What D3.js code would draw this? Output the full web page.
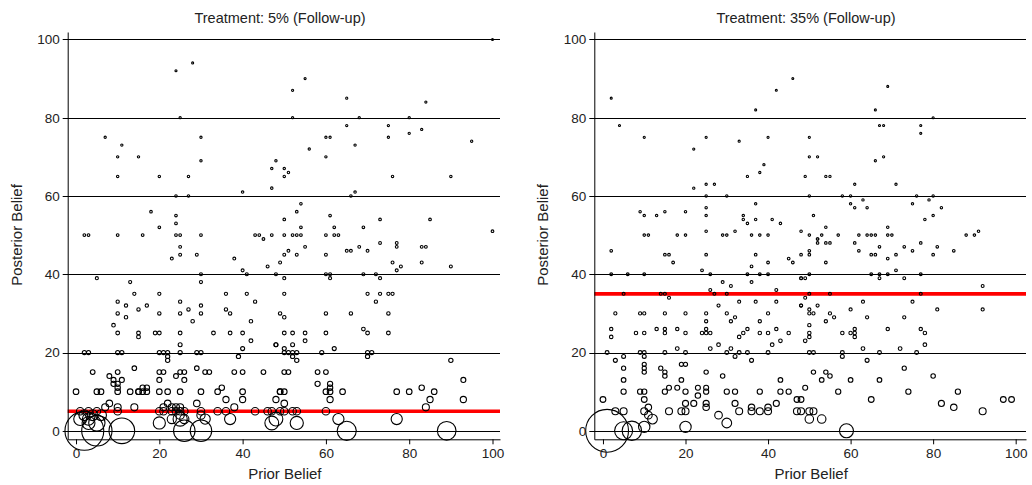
<!DOCTYPE html>
<html>
<head>
<meta charset="utf-8">
<script src="https://cdn.jsdelivr.net/npm/d3@7"></script>
<style>
  html, body { margin: 0; padding: 0; background: #fff; }
  svg { display: block; font-family: "Liberation Sans", Arial, Helvetica, sans-serif; }
</style>
</head>
<body>
<svg id="chart" width="1032" height="485"></svg>
<script>
// ---------------- data ----------------
const xTicks = [0, 20, 40, 60, 80, 100];
const yTicks = [0, 20, 40, 60, 80, 100];
const panelTitles = ["Treatment: 5% (Follow-up)", "Treatment: 35% (Follow-up)"];
const treatmentValues = [5, 35];
const xTitle = "Prior Belief";
const yTitle = "Posterior Belief";

// [prior, posterior]
const followUp5 = [
  [24,92],[28,94],[25,80],[7,75],[11,73],[10,70],[15,70],[30,75],[30,69],[10,65],[20,65],[27,65],[24,60],[27,60],
  [40,61],[47,62],[47,67],[48,69],[18,56],[24,55],[24,53],[20,52],[2,50],[3,50],[10,50],[16,50],[24,50],[25,50],
  [30,50],[43,50],[44,50],[45,49],[47,50],
  [100,100],[55,90],[52,87],[65,85],[84,84],[52,80],[68,80],[80,80],[65,78],[75,78],[83,77],[80,76],[60,75],[61,75],
  [75,75],[95,74],[67,73],[56,72],[60,70],[50,67],[50,65],[51,66],[76,65],[90,65],[67,61],[66,60],[54,58],[53,56],
  [50,54],[61,55],[73,54],[85,54],[54,52],[62,52],[69,52],[50,50],[52,50],[53,50],[54,50],[60,50],[62,50],[63,50],[100,51],
  [25,47],[25,45],[23,44],[29,45],[38,44],[40,41],[41,40],[46,42],[49,43],[30,40],[30,38],[5,39],[13,38],[14,35],
  [20,35],[36,35],[41,35],[43,33],[10,33],[25,33],[12,32],[17,32],[30,32],[15,31],[27,31],[36,31],[37,30],[10,30],
  [20,30],[25,30],[30,30],[12,29],[28,28],[42,28],[49,30],[9,27],[10,25],[15,25],[15,24],[19,25],[20,25],[25,25],
  [33,25],[37,25],[40,25],[25,22],[40,21],[42,23],[48,22],[2,20],[3,20],[10,20],[11,20],[20,20],[21,20],[22,20],
  [25,20],[29,20],[30,20],[22,19],[22,18],[39,19],[4,15],[10,15],[20,15],[21,15],[25,15],[26,15],[31,15],[32,15],
  [38,15],[40,15],[45,15],[14,16],[29,16],[8,14],[24,14],[9,13],[9,12],[11,13],[20,13],[26,13],[10,12],[10,11],
  [16,11],[17,11],[15,10],
  [0,10],[5,10],[6,10],[10,10],[13,10],[15,10],[16,10],[17,10],[20,10],[22,10],[25,10],[30,10],[34,10],[35,11],
  [40,10],[49,10],[8,7],[10,6],[14,6],[22,7],[24,6],[25,6],[29,7],[36,8],[38,6],[40,8],[7,6],[21,6],[23,6],
  [1,5],[3,5],[5,5],[10,5],[20,5],[21,5],[23,5],[24,5],[25,5],[26,5],[30,5],[34,5],[36,5],[43,5],[46,5],[49,5],
  [23,3],[25,4],[30,4],[26,3],
  [51,46],[50,45],[53,45],[55,47],[60,45],[65,46],[66,46],[68,47],[70,46],[73,48],[77,48],[77,47],[83,47],[84,47],
  [76,43],[78,42],[77,41],[83,43],[90,42],[48,40],[60,40],[61,40],[69,40],[72,40],[50,39],[61,39],[73,39],[50,35],
  [70,35],[73,35],[75,35],[76,35],[72,33],[50,29],[60,30],[66,30],[75,30],[50,25],[52,25],[55,25],[60,25],[69,26],
  [70,25],[75,25],[55,23],[48,22],[50,21],[52,22],[62,21],[50,20],[51,20],[52,20],[53,20],[59,20],[70,20],[71,20],
  [52,19],[53,18],[70,19],[90,18],[50,15],[51,15],[58,15],[60,15],[93,13],[58,12],[61,12],[61,11],[49,10],[50,10],
  [60,10],[61,10],[64,10],[77,10],[80,10],[86,10],[83,11],[50,7],[61,8],[85,8],[93,8],[84,6],[48,8],
  [47,5],[50,5],[52,5],[53,5],[60,5]
];
// [prior, posterior, weight] for observations with enlarged weights
const followUp5Weighted = [
  [2,0,4.6],[5,0,2.8],[11,0,2],[26,0,1.4],[30,0,1.4],[65,0,1.1],[89,0,1.05],[5,2,0.8],[1,3,0.5],[3,3,0.45],
  [2,4,0.35],[4,4,0.35],[6,4,0.35],[3,2,0.5],[25,3,0.6],[48,3,0.57],[53,2,0.52],[63,3,0.37],[77,3,0.37],
  [47,2,0.57],[20,2,0.44],[37,3,0.37],[31,3,0.31]
];

const followUp35 = [
  [2,85],[4,78],[10,75],[22,72],[25,75],[33,74],[37,82],[42,87],[46,90],[40,75],[39,68],[38,66],[35,65],[49,65],
  [22,62],[25,63],[27,63],[25,60],[30,60],[37,58],[25,57],[9,56],[10,55],[13,55],[15,56],[20,56],[25,55],[34,55],
  [34,54],[35,53],[37,54],[41,54],[43,53],[10,50],[11,50],[18,50],[20,50],[29,50],[30,50],[36,50],[38,50],[40,50],
  [25,51],[32,51],[48,51],
  [69,88],[66,82],[67,78],[68,78],[77,78],[80,80],[77,76],[50,75],[50,70],[52,70],[66,69],[68,70],[54,65],[55,65],
  [61,63],[71,63],[50,60],[58,60],[60,60],[76,60],[80,60],[60,58],[61,57],[63,59],[64,57],[75,58],[79,59],[82,57],
  [51,55],[78,54],[80,55],[54,52],[69,52],[50,50],[53,50],[57,50],[62,50],[64,50],[65,50],[66,50],[69,50],[70,50],
  [88,50],[90,50],[52,49],[91,51],
  [2,46],[15,45],[16,45],[17,43],[25,45],[24,41],[2,40],[6,40],[10,40],[26,40],[35,40],[38,40],[40,40],[37,45],
  [36,42],[36,38],[40,43],[45,44],[46,43],[48,39],[29,38],[31,37],[26,36],[42,36],
  [5,35],[14,35],[15,35],[27,35],[30,35],[16,34],[28,32],[33,33],[37,33],[42,33],[48,32],
  [3,30],[9,30],[10,30],[15,30],[20,30],[25,30],[30,30],[40,30],[25,28],[31,28],[32,29],[38,28],
  [2,26],[13,26],[15,26],[18,26],[25,26],[35,26],[42,26],[2,24],[8,25],[10,25],[15,25],[20,25],[24,25],[25,25],
  [26,25],[38,25],[40,25],[45,25],[33,24],[34,25],[43,23],[41,22],[18,21],[26,21],[28,22],[31,21],[32,19],[3,18],
  [5,19],[36,18],[1,20],[9,20],[10,20],[15,20],[20,20],[30,20],[33,20],[35,20],[40,20],
  [10,19],[10,17],[10,16],[10,15],[19,17],[20,17],[14,16],[15,15],[15,14],[5,16],[5,13],[25,15],[29,14],[19,13],[43,13],
  [5,10],[9,10],[10,10],[15,10],[20,10],[25,10],[30,10],[32,10],[38,10],[43,10],[45,10],
  [0,8],[10,8],[16,11],[18,11],[23,11],[25,11],[23,9],[25,7],[25,6],[20,7],[22,7],[32,7],[42,7],[47,8],
  [36,6],[40,6],[11,6],[11,4],[28,4],
  [3,5],[5,5],[10,5],[16,5],[19,5],[20,5],[33,5],[36,5],[38,5],[40,5],[47,5],
  [52,48],[52,49],[54,48],[55,48],[61,48],[67,47],[73,47],[75,46],[77,48],[81,47],[85,46],[48,45],[50,45],[50,46],
  [62,46],[65,45],[66,45],[69,44],[71,45],[80,45],[54,43],
  [50,40],[65,40],[67,40],[69,40],[77,40],[71,41],[48,39],[49,39],[67,39],[73,39],
  [50,35],[55,35],[77,35],[92,37],[49,34],[63,33],[75,33],[48,32],[52,32],[50,31],[50,30],[51,30],[60,31],[81,31],
  [92,31],[55,30],[56,29],[64,29],[73,29],[54,28],[50,27],[69,26],[61,26],[77,26],[78,25],[50,25],[50,24],[58,25],
  [60,25],[61,25],[61,24],[49,23],[78,22],
  [50,20],[51,20],[58,20],[67,20],[76,20],[63,21],[72,21],[58,19],[64,18],[73,16],[51,15],[54,15],[55,14],[53,13],
  [60,13],[67,13],[80,14],[49,11],[57,10],[74,10],[86,10],[48,8],[65,8],[82,7],[97,8],[99,8],[85,6],
  [48,5],[50,5],[51,5],[92,5],[50,3],[53,3]
];
const followUp35Weighted = [
  [1,0,6.6],[5,0,1.15],[7,0,1.34],[59,0,0.69],[10,1,0.45],[20,1,0.45],[30,2,0.33],[12,3,0.33]
];

// ---------------- layout ----------------
const svg = d3.select("#chart");
const font = '"Liberation Sans", Arial, Helvetica, sans-serif';

const panels = [
  { title: panelTitles[0], ref: treatmentValues[0], pts: followUp5, wpts: followUp5Weighted,
    xr: [67.7, 500], xd: [-2, 101.8], titleX: 280, yTitleX: 22, k: 9 },
  { title: panelTitles[1], ref: treatmentValues[1], pts: followUp35, wpts: followUp35Weighted,
    xr: [594.3, 1026], xd: [-2.1, 102.5], titleX: 806, yTitleX: 548, k: 8.3 }
];

const y = d3.scaleLinear().domain([-2.17, 101.9]).range([439.3, 32]);

panels.forEach(p => {
  const x = d3.scaleLinear().domain(p.xd).range(p.xr);
  const g = svg.append("g");
  // marker size: area proportional to analytic weight 1/(posterior+1)
  const size = d3.scaleSqrt().domain([0, 1]).range([0, p.k]);

  // gridlines
  g.append("g").selectAll("line").data(yTicks).join("line")
    .attr("x1", p.xr[0] - 5).attr("x2", p.xr[1])
    .attr("y1", d => Math.round(y(d)) + 0.5).attr("y2", d => Math.round(y(d)) + 0.5)
    .attr("stroke", "#000").attr("stroke-width", 1);

  // treatment reference line
  g.append("line")
    .attr("x1", p.xr[0]).attr("x2", p.xr[1])
    .attr("y1", y(p.ref)).attr("y2", y(p.ref))
    .attr("stroke", "#ff0000").attr("stroke-width", 3.6);

  // points
  const all = p.pts.map(d => ({ px: d[0], py: d[1], w: 1 / (d[1] + 1) }))
    .concat(p.wpts.map(d => ({ px: d[0], py: d[1], w: d[2] })));
  g.append("g").selectAll("circle").data(all).join("circle")
    .attr("cx", d => x(d.px)).attr("cy", d => y(d.py))
    .attr("r", d => size(d.w) + 0.1)
    .attr("fill", "none").attr("stroke", "#000").attr("stroke-width", 1.1);

  // axes
  const yAxis = g.append("g").attr("transform", `translate(${p.xr[0]},0)`)
    .call(d3.axisLeft(y).tickValues(yTicks).tickSize(5).tickSizeOuter(0).tickPadding(3));
  const xAxis = g.append("g").attr("transform", `translate(0,${439.3})`)
    .call(d3.axisBottom(x).tickValues(xTicks).tickSize(5).tickSizeOuter(0).tickPadding(4));
  [yAxis, xAxis].forEach(a => {
    a.selectAll("path").attr("stroke", "#000").attr("stroke-width", 1);
    a.selectAll("line").attr("stroke", "#000").attr("stroke-width", 1);
    a.selectAll("text").attr("font-family", font).attr("font-size", 13.5).attr("fill", "#222");
  });
  yAxis.selectAll(".tick line").remove();

  // titles
  g.append("text").attr("x", p.titleX).attr("y", 22.5).attr("text-anchor", "middle")
    .attr("font-family", font).attr("font-size", 14.5).attr("fill", "#222").text(p.title);
  g.append("text").attr("x", (p.xr[0] + p.xr[1]) / 2 + 1).attr("y", 479).attr("text-anchor", "middle")
    .attr("font-family", font).attr("font-size", 15).attr("fill", "#222").text(xTitle);
  g.append("text").attr("transform", `translate(${p.yTitleX},235) rotate(-90)`).attr("text-anchor", "middle")
    .attr("font-family", font).attr("font-size", 15).attr("fill", "#222").text(yTitle);
});
</script>
</body>
</html>
